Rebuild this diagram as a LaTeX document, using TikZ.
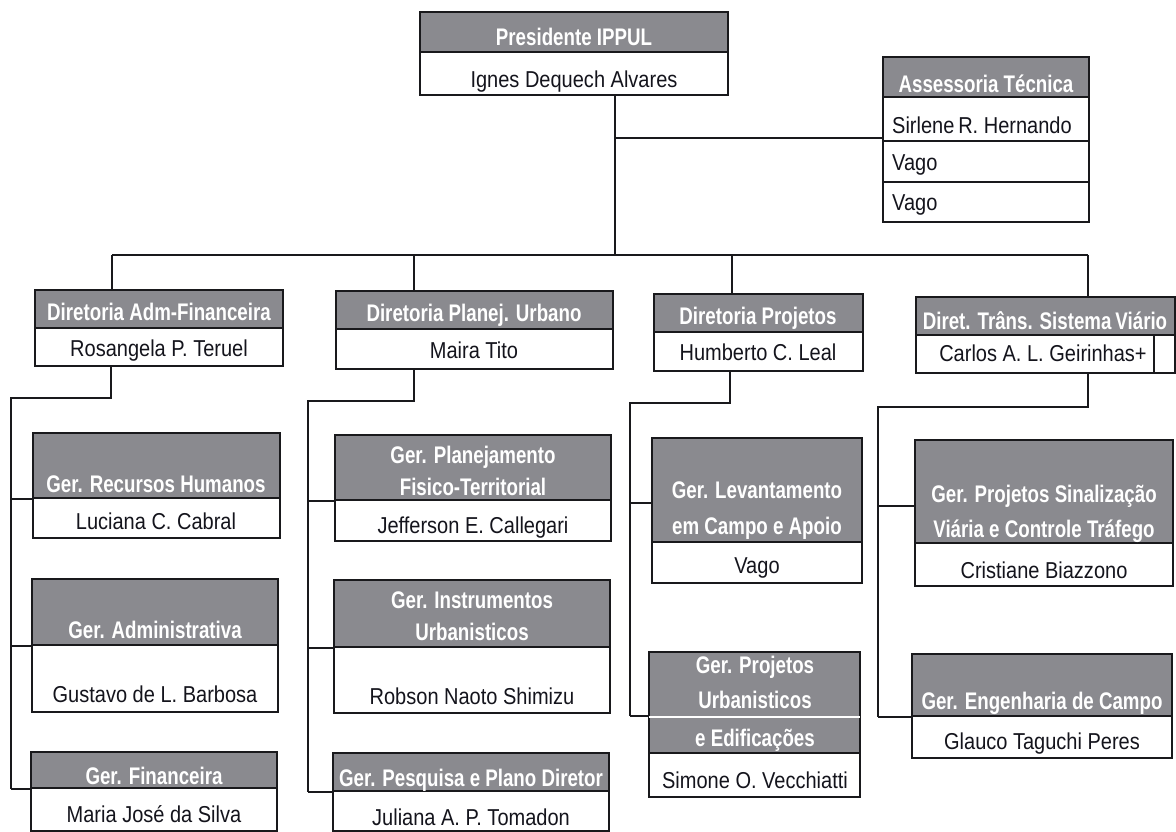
\documentclass[tikz,border=0pt]{standalone}
\usepackage{fontspec}
\setmainfont{Liberation Sans}[FakeStretch=0.87]
\newfontfamily\hdrfont{Liberation Sans}[FakeStretch=0.78]
\usetikzlibrary{fit}
\definecolor{hdrgray}{RGB}{138,138,143}
\definecolor{linec}{RGB}{25,25,28}
\definecolor{namec}{RGB}{20,20,28}
\tikzset{
  hdrbox/.style={draw=linec, fill=hdrgray, line width=1.8pt, inner sep=0pt},
  bdybox/.style={draw=linec, fill=white, line width=1.8pt, inner sep=0pt},
  htxt/.style={anchor=base, inner sep=0pt, text=white, font=\hdrfont\bfseries\fontsize{24}{28}\selectfont},
  ntxt/.style={anchor=base, inner sep=0pt, text=namec, font=\fontsize{23}{27}\selectfont},
  con/.style={draw=linec, line width=1.7pt},
}
% name, x1, top, x2, header bottom, bottom
\newcommand\mkorgbox[6]{%
  \node[bdybox, fit={(#2,#5) (#4,#6)}] (#1b) {};
  \node[hdrbox, fit={(#2,#3) (#4,#5)}] (#1h) {};}
\begin{document}
\begin{tikzpicture}[x=1pt,y=-1pt]
\useasboundingbox[fill=white] (0,0) rectangle (1176,831);

% ---------- top level ----------
\mkorgbox{pre}{420}{12}{728}{52}{95}
\node[htxt] (pret) at (574,45) {Presidente IPPUL};
\node[ntxt] (pren) at (574,87) {Ignes Dequech Alvares};

% Assessoria
\node[hdrbox, fit={(883,57) (1089,97)}] (assh) {};
\node[bdybox, fit={(883,97) (1089,141)}] (assr1) {};
\node[bdybox, fit={(883,141) (1089,182)}] (assr2) {};
\node[bdybox, fit={(883,182) (1089,222)}] (assr3) {};
\node[htxt] (asst) at (986,92) {Assessoria Técnica};
\node[ntxt, anchor=base west] (assn1) at (892,133) {Sirlene\,R. Hernando};
\node[ntxt, anchor=base west] (assn2) at (892,170) {Vago};
\node[ntxt, anchor=base west] (assn3) at (892,210) {Vago};

% ---------- directors ----------
\mkorgbox{adm}{35}{290}{283}{328}{366}
\node[htxt] (admt) at (159,320) {Diretoria Adm-Financeira};
\node[ntxt] (admn) at (159,356) {Rosangela P. Teruel};

\mkorgbox{pl}{336}{291}{613}{329}{369}
\node[htxt] (plt) at (474,321) {Diretoria Planej. Urbano};
\node[ntxt] (pln) at (474,358) {Maira Tito};

\mkorgbox{proj}{654}{294}{863}{332}{371}
\node[htxt] (projt) at (758,324) {Diretoria Projetos};
\node[ntxt] (projn) at (758,360) {Humberto C. Leal};

\mkorgbox{tr}{916}{297}{1175}{335}{373}
\node[htxt] (trt) at (1045,329) {Diret. Trâns. Sistema\,Viário};
\node[ntxt] (trn) at (1043,361) {Carlos A. L. Geirinhas+};
\draw[con] ([xshift=-22pt]trb.north east) -- ([xshift=-22pt]trb.south east);

% ---------- column 1 ----------
\mkorgbox{rh}{33}{433}{280}{498}{538}
\node[htxt] (rht) at (156,492) {Ger. Recursos Humanos};
\node[ntxt] (rhn) at (156,529) {Luciana C. Cabral};

\mkorgbox{gad}{32}{579}{278}{645}{712}
\node[htxt] (gadt) at (155,638) {Ger. Administrativa};
\node[ntxt] (gadn) at (155,702) {Gustavo de L. Barbosa};

\mkorgbox{fin}{31}{752}{277}{788}{831}
\node[htxt] (fint) at (154,784) {Ger. Financeira};
\node[ntxt] (finn) at (154,822) {Maria José da Silva};

% ---------- column 2 ----------
\mkorgbox{gpl}{335}{435}{611}{500}{541}
\node[htxt] (gplt1) at (473,463) {Ger. Planejamento};
\node[htxt] (gplt2) at (473,495) {Fisico-Territorial};
\node[ntxt] (gpln) at (473,533) {Jefferson E. Callegari};

\mkorgbox{gin}{334}{580}{610}{647}{713}
\node[htxt] (gint1) at (472,608) {Ger. Instrumentos};
\node[htxt] (gint2) at (472,640) {Urbanisticos};
\node[ntxt] (ginn) at (472,704) {Robson Naoto Shimizu};

\mkorgbox{gpe}{333}{753}{609}{791}{831}
\node[htxt] (gpet) at (471,786) {Ger. Pesquisa e Plano Diretor};
\node[ntxt] (gpen) at (471,825) {Juliana A. P. Tomadon};

% ---------- column 3 ----------
\mkorgbox{lev}{652}{438}{862}{542}{583}
\node[htxt] (levt1) at (757,498) {Ger. Levantamento};
\node[htxt] (levt2) at (757,534) {em Campo e Apoio};
\node[ntxt] (levn) at (757,573) {Vago};

\mkorgbox{pu}{649}{652}{860}{753}{797}
\draw[white, line width=1.2pt] ([xshift=1pt]puh.west |- 0,717) -- ([xshift=-1pt]puh.east |- 0,717);
\node[htxt] (put1) at (755,673) {Ger. Projetos};
\node[htxt] (put2) at (755,708) {Urbanisticos};
\node[htxt] (put3) at (755,746) {e Edificações};
\node[ntxt] (pun) at (755,788) {Simone O. Vecchiatti};

% ---------- column 4 ----------
\mkorgbox{sin}{915}{440}{1173}{543}{586}
\node[htxt] (sint1) at (1044,502) {Ger. Projetos Sinalização};
\node[htxt] (sint2) at (1044,537) {Viária e Controle Tráfego};
\node[ntxt] (sinn) at (1044,578) {Cristiane Biazzono};

\mkorgbox{eng}{912}{654}{1172}{716}{758}
\node[htxt] (engt) at (1042,709) {Ger. Engenharia de Campo};
\node[ntxt] (engn) at (1042,749) {Glauco Taguchi Peres};

% ---------- connectors ----------
\coordinate (mj) at (615,255);
\coordinate (aj) at (615,138);
\coordinate (hl) at (112,255);
\coordinate (hr) at (1088,255);
\coordinate (hp) at (414,255);
\coordinate (hq) at (732,255);
\draw[con] (preb.south -| mj) -- (mj);
\draw[con] (aj) -- (aj -| assr1.west);
\draw[con] (hl) -- (hr);
\draw[con] (hl) -- (hl |- admh.north);
\draw[con] (hp) -- (hp |- plh.north);
\draw[con] (hq) -- (hq |- projh.north);
\draw[con] (hr) -- (hr |- trh.north);

% column 1
\coordinate (k1) at (111,398);
\coordinate (t1) at (11,398);
\draw[con] (admb.south -| k1) -- (k1) -- (t1) -- (t1 |- finh.south);
\draw[con] (t1 |- rhh.south) -- (rhh.south west);
\draw[con] (t1 |- gadh.south) -- (gadh.south west);
\draw[con] (t1 |- finh.south) -- (finh.south west);

% column 2
\coordinate (k2) at (414,401);
\coordinate (t2) at (308,401);
\draw[con] (plb.south -| k2) -- (k2) -- (t2) -- (t2 |- gpeh.south);
\draw[con] (t2 |- gplh.south) -- (gplh.south west);
\draw[con] (t2 |- ginh.south) -- (ginh.south west);
\draw[con] (t2 |- gpeh.south) -- (gpeh.south west);

% column 3
\coordinate (k3) at (730,403);
\coordinate (t3) at (630,403);
\coordinate (levj) at (630,503);
\coordinate (puj) at (630,716);
\draw[con] (projb.south -| k3) -- (k3) -- (t3) -- (puj);
\draw[con] (levj) -- (levj -| levh.west);
\draw[con] (puj) -- (puj -| puh.west);

% column 4
\coordinate (k4) at (1088,407);
\coordinate (t4) at (878,407);
\coordinate (sinj) at (878,506);
\draw[con] (trb.south -| k4) -- (k4) -- (t4) -- (t4 |- engh.south);
\draw[con] (sinj) -- (sinj -| sinh.west);
\draw[con] (t4 |- engh.south) -- (engh.south west);
\end{tikzpicture}
\end{document}
